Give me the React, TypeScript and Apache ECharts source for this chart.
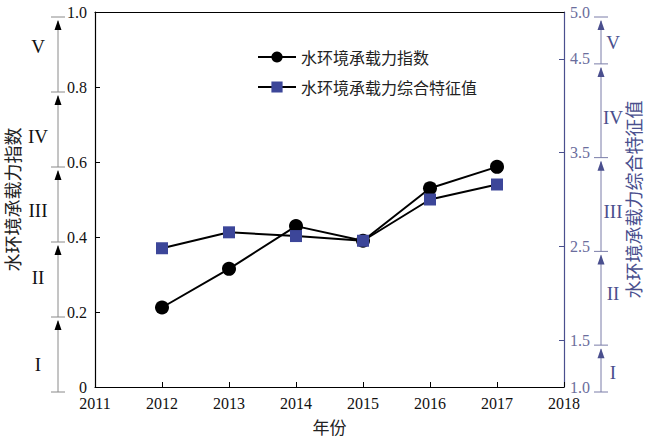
import React, { useEffect, useRef } from "react";
import * as echarts from "echarts";

const years = [2012, 2013, 2014, 2015, 2016, 2017];
const indexValues = [0.212, 0.315, 0.429, 0.39, 0.53, 0.587];
const featureValues = [2.48, 2.65, 2.61, 2.56, 3.0, 3.16];

const seriesNames = ["水环境承载力指数", "水环境承载力综合特征值"];
const xAxisName = "年份";
const leftAxisName = "水环境承载力指数";
const rightAxisName = "水环境承载力综合特征值";

const leftTickValues = [0.2, 0.4, 0.6, 0.8];
const rightTickValues = [1.5, 2.5, 3.5, 4.5];
const rightLabelValues = [1.0, 1.5, 2.5, 3.5, 4.5, 5.0];

const gradeLabels = ["I", "II", "III", "IV", "V"];
const leftGradeBounds = [0, 0.2, 0.4, 0.6, 0.8, 1.0];
const rightGradeBounds = [1.0, 1.5, 2.5, 3.5, 4.5, 5.0];
const leftGradeLabelPos = [0.059, 0.293, 0.472, 0.667, 0.907];
const rightGradeLabelPos = [1.15, 2.0, 2.87, 3.87, 4.68];

const SERIF = "'Liberation Serif', 'Times New Roman', serif";
const CJK = "'Noto Sans CJK SC', sans-serif";
const BLUE = "#4a4f8e";
const SQUARE = "#3c4699";

export default function App() {
  const ref = useRef<HTMLDivElement>(null);
  useEffect(() => {
    if (!ref.current) return;
    const chart = echarts.init(ref.current, undefined, { renderer: "svg" });
    const option: any = {
      animation: false,
      backgroundColor: "#ffffff",
      grid: { left: 95, right: 86, top: 12, bottom: 53, containLabel: false, outerBoundsMode: "none" },
      legend: {
        orient: "vertical",
        left: 252,
        top: 44,
        itemWidth: 38,
        itemHeight: 14,
        itemGap: 14,
        textStyle: { fontFamily: CJK, fontSize: 16, color: "#222" },
        data: seriesNames,
      },
      xAxis: [
        {
          type: "value",
          min: 2011,
          max: 2018,
          interval: 1,
          name: xAxisName,
          nameLocation: "middle",
          nameGap: 31,
          nameTextStyle: { fontFamily: CJK, fontSize: 17, color: "#222" },
          axisLine: { lineStyle: { color: "#000", width: 1.2 } },
          axisTick: { inside: true, length: 5, lineStyle: { color: "#000" } },
          axisLabel: {
            fontFamily: SERIF,
            fontSize: 16,
            color: "#111",
            margin: 8,
            formatter: (v: number) => String(v),
          },
          splitLine: { show: false },
        },
        {
          type: "value",
          position: "top",
          min: 2011,
          max: 2018,
          axisLine: { lineStyle: { color: "#000", width: 1.2 } },
          axisTick: { show: false },
          axisLabel: { show: false },
          splitLine: { show: false },
        },
      ],
      yAxis: [
        {
          type: "value",
          min: 0,
          max: 1,
          interval: 0.2,
          position: "left",
          name: leftAxisName,
          nameLocation: "middle",
          nameRotate: 90,
          nameGap: 74,
          nameTextStyle: { fontFamily: CJK, fontSize: 18, color: "#222" },
          axisLine: { show: true, lineStyle: { color: "#000", width: 1.2 } },
          axisTick: { show: true, inside: true, length: 5, customValues: leftTickValues, lineStyle: { color: "#000" } },
          axisLabel: {
            fontFamily: SERIF,
            fontSize: 16,
            color: "#111",
            margin: 8,
            formatter: (v: number) => (v === 0 ? "0" : v.toFixed(1)),
          },
          splitLine: { show: false },
        },
        {
          type: "value",
          min: 1,
          max: 5,
          position: "right",
          name: rightAxisName,
          nameLocation: "middle",
          nameRotate: 90,
          nameGap: 60,
          nameTextStyle: { fontFamily: CJK, fontSize: 18, color: BLUE },
          axisLine: { show: true, lineStyle: { color: BLUE, width: 1.2 } },
          axisTick: { show: true, inside: true, length: 5, customValues: rightTickValues, lineStyle: { color: BLUE } },
          axisLabel: {
            fontFamily: SERIF,
            fontSize: 16,
            color: "#6a6d9c",
            margin: 6,
            customValues: rightLabelValues,
            formatter: (v: number) => v.toFixed(1),
          },
          splitLine: { show: false },
        },
      ],
      series: [
        {
          name: seriesNames[0],
          type: "line",
          xAxisIndex: 0,
          yAxisIndex: 0,
          symbol: "circle",
          symbolSize: 14,
          itemStyle: { color: "#000" },
          lineStyle: { color: "#000", width: 2 },
          data: years.map((y, i) => [y, indexValues[i]]),
        },
        {
          name: seriesNames[1],
          type: "line",
          xAxisIndex: 0,
          yAxisIndex: 1,
          symbol: "rect",
          symbolSize: 12,
          itemStyle: { color: SQUARE },
          lineStyle: { color: "#000", width: 2 },
          data: years.map((y, i) => [y, featureValues[i]]),
        },
      ],
    };
    chart.setOption(option);

    const graphics: any[] = [];
    const build = (
      bounds: number[],
      labelPos: number[],
      axisIndex: number,
      lineX: number,
      labelX: number,
      lineColor: string,
      arrowColor: string,
      textColor: string
    ) => {
      const py = (v: number) => (chart.convertToPixel({ yAxisIndex: axisIndex } as any, v) as number) + 5;
      bounds.forEach((b) => {
        const y = py(b);
        graphics.push({
          type: "line",
          shape: { x1: lineX - 7, y1: y, x2: lineX + 7, y2: y },
          style: { stroke: lineColor, lineWidth: 1 },
        });
      });
      for (let i = 0; i < bounds.length - 1; i++) {
        const yb = py(bounds[i]);
        const yt = py(bounds[i + 1]);
        graphics.push({
          type: "line",
          shape: { x1: lineX, y1: yb, x2: lineX, y2: yt + 4 },
          style: { stroke: lineColor, lineWidth: 1 },
        });
        const tip = yt + 3;
        graphics.push({
          type: "polygon",
          shape: { points: [[lineX, tip], [lineX - 3.5, tip + 10], [lineX + 3.5, tip + 10]] },
          style: { fill: arrowColor },
        });
        const ly = chart.convertToPixel({ yAxisIndex: axisIndex } as any, labelPos[i]) as number;
        graphics.push({
          type: "text",
          x: labelX,
          y: ly,
          style: {
            text: gradeLabels[i],
            fontFamily: SERIF,
            fontSize: 19,
            fill: textColor,
            align: "center",
            verticalAlign: "middle",
          },
        });
      }
    };
    build(leftGradeBounds, leftGradeLabelPos, 0, 58, 38, "#8a8a8a", "#000", "#111");
    build(rightGradeBounds, rightGradeLabelPos, 1, 601, 613, "#7a7da8", BLUE, BLUE);
    chart.setOption({ graphic: graphics });

    return () => chart.dispose();
  }, []);
  return (
    <div
      ref={ref}
      style={{ position: "absolute", left: 0, top: 0, width: 650, height: 440 }}
    />
  );
}
